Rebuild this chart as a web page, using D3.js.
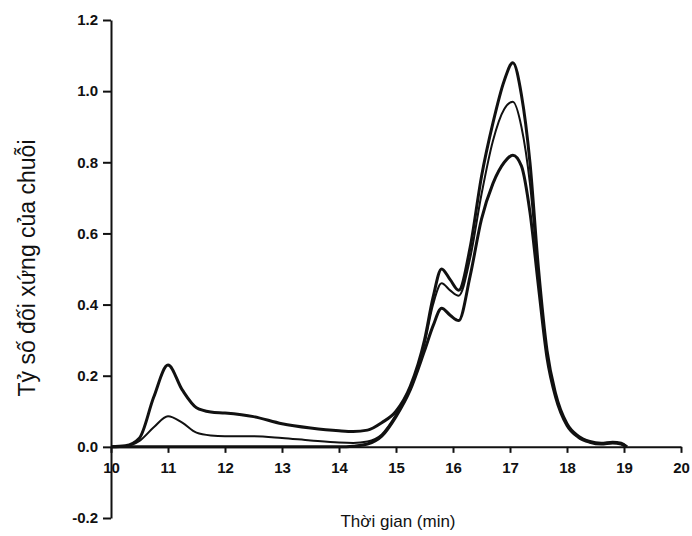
<!DOCTYPE html>
<html>
<head>
  <script src="https://d3js.org/d3.v7.min.js"></script>
  <style>
    body { margin: 0; background: #fff; }
    svg { display: block; }
    .axis path, .axis line { stroke: #111; stroke-width: 2; }
    .axis text { font: bold 15px "Liberation Sans", Arial, sans-serif; fill: #111; }
    .trace { fill: none; stroke: #111; stroke-linejoin: round; }
    .title { font: 17px "Liberation Sans", Arial, sans-serif; fill: #111; }
  </style>
</head>
<body>
<script>
// retention time (min)
var times = [10, 10.25, 10.5, 10.75, 11, 11.25, 11.5, 11.75, 12, 12.5, 13, 13.5, 14, 14.25,
  14.5, 14.75, 15, 15.25, 15.5, 15.65, 15.8, 15.95, 16.1, 16.3, 16.5, 16.7, 16.9, 17.05,
  17.2, 17.35, 17.5, 17.65, 17.8, 18, 18.2, 18.4, 18.6, 18.8, 18.95, 19.05];

// three traces
var traceA = [0, 0.003, 0.025, 0.14, 0.23, 0.16, 0.11, 0.098, 0.095, 0.085, 0.065, 0.053, 0.045, 0.043,
  0.047, 0.068, 0.1, 0.17, 0.3, 0.42, 0.5, 0.47, 0.44, 0.56, 0.76, 0.91, 1.03, 1.08,
  0.99, 0.8, 0.5, 0.27, 0.15, 0.065, 0.03, 0.015, 0.01, 0.013, 0.01, 0];
var traceB = [0, 0.002, 0.017, 0.055, 0.086, 0.068, 0.04, 0.032, 0.03, 0.03, 0.025, 0.018, 0.012, 0.011,
  0.015, 0.035, 0.09, 0.165, 0.29, 0.4, 0.46, 0.44, 0.425, 0.53, 0.71, 0.86, 0.95, 0.97,
  0.9, 0.74, 0.48, 0.26, 0.145, 0.062, 0.028, 0.014, 0.009, 0.012, 0.009, 0];
var traceC = [0, 0, 0, 0, 0, 0, 0, 0, 0, 0, 0, 0, 0, 0.002,
  0.008, 0.03, 0.085, 0.16, 0.27, 0.34, 0.39, 0.37, 0.355, 0.48, 0.64, 0.74, 0.8, 0.82,
  0.79, 0.66, 0.45, 0.25, 0.14, 0.06, 0.027, 0.013, 0.008, 0.011, 0.008, 0];

var xTicks = [10, 11, 12, 13, 14, 15, 16, 17, 18, 19, 20];
var yTicks = [-0.2, 0.0, 0.2, 0.4, 0.6, 0.8, 1.0, 1.2];

var width = 692, height = 536;

var svg = d3.select("body").append("svg")
  .attr("width", width).attr("height", height);

var x = d3.scaleLinear().domain([10, 20]).range([111, 681]);
var y = d3.scaleLinear().domain([-0.2, 1.2]).range([518, 20]);

// plain hyphen for negatives, like the original
var fmt = function(d) { return d3.format(".1f")(d).replace("\u2212", "-"); };

svg.append("g")
  .attr("class", "axis")
  .attr("transform", "translate(" + x(10) + ",0)")
  .call(d3.axisLeft(y).tickValues(yTicks).tickFormat(fmt).tickSize(8).tickSizeOuter(0).tickPadding(5));

svg.append("g")
  .attr("class", "axis")
  .attr("transform", "translate(0," + y(0) + ")")
  .call(d3.axisBottom(x).tickValues(xTicks).tickFormat(d3.format("d")).tickSize(6).tickSizeOuter(0).tickPadding(10));

var line = d3.line()
  .x(function(d) { return x(d[0]); })
  .y(function(d) { return y(d[1]); })
  .curve(d3.curveMonotoneX);

var traces = [
  { values: traceA, w: 3 },
  { values: traceB, w: 2 },
  { values: traceC, w: 3 }
];

svg.selectAll(".trace")
  .data(traces)
  .enter().append("path")
  .attr("class", "trace")
  .attr("stroke-width", function(d) { return d.w; })
  .attr("d", function(d) { return line(times.map(function(t, i) { return [t, d.values[i]]; })); });

svg.append("text")
  .attr("class", "title")
  .attr("x", 398).attr("y", 527)
  .attr("text-anchor", "middle")
  .text("Thời gian (min)");

svg.append("text")
  .attr("class", "title")
  .attr("transform", "translate(35,268) rotate(-90)")
  .attr("text-anchor", "middle")
  .style("font-size", "23px")
  .text("Tỷ số đối xứng của chuỗi");
</script>
</body>
</html>
